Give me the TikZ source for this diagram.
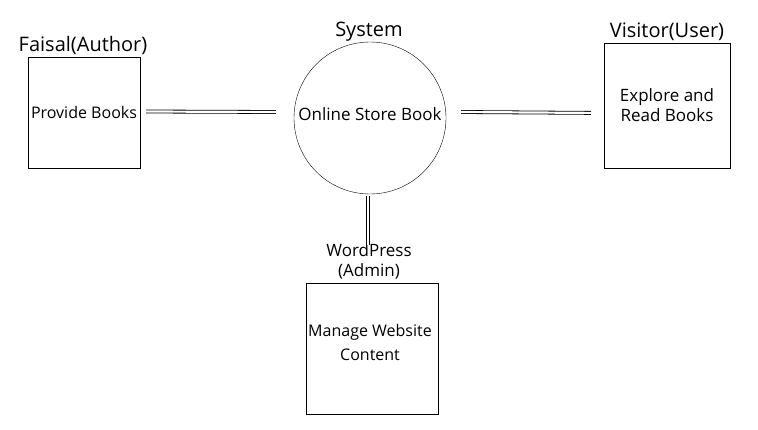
\documentclass[tikz,border=0pt]{standalone}
\usepackage{fontspec}
\setmainfont{Open Sans}
\usetikzlibrary{positioning}

\tikzset{
  entity/.style={draw, inner sep=0pt, align=center, font=\fontsize{16}{20}\selectfont},
  role/.style={inner sep=0pt, align=center, font=\fontsize{20}{24}\selectfont},
  caption/.style={inner sep=0pt, align=center},
  flow/.style={double, double distance=2.2pt, line width=0.8pt}
}

\begin{document}
\begin{tikzpicture}[x=1pt,y=-1pt]
\useasboundingbox (0,0) rectangle (758,430);

% external entities and the system
\node[entity, minimum width=112pt, minimum height=111pt] (author) at (84,112.5) {Provide Books};
\node[role] (authorlbl) at (83,45) {Faisal(Author)};

\node[draw, circle, inner sep=0pt, minimum size=152pt] (store) at (370,118) {};
\node[caption, font=\fontsize{17}{20}\selectfont] (storetext) at (370,114) {Online Store Book};
\node[role] (storelbl) at (369,32) {System};

\node[entity, minimum width=126pt, minimum height=125pt, font=\fontsize{17}{20}\selectfont] (visitor) at (667,105.5) {Explore and\\Read Books};
\node[role] (visitorlbl) at (667,32) {Visitor(User)};

\node[entity, minimum width=132pt, minimum height=131pt] (admin) at (372,348.5) {};
\node[caption, font=\fontsize{16}{24}\selectfont] (admintext) at (370,342.5) {Manage Website\\Content};
\node[caption, font=\fontsize{17}{20}\selectfont] (adminlbl) at (369,261) {WordPress\\(Admin)};

% data flows
\draw[flow] ([xshift=6pt,yshift=1pt]author.east) -- ([xshift=-18pt,yshift=6pt]store.west);
\draw[flow] ([xshift=15pt,yshift=6pt]store.east) -- ([xshift=-13pt,yshift=-7.4pt]visitor.west);
\draw[flow] ([xshift=-2pt,yshift=-2pt]store.south) -- ([xshift=-1pt,yshift=-2pt]adminlbl.north);

\end{tikzpicture}
\end{document}
